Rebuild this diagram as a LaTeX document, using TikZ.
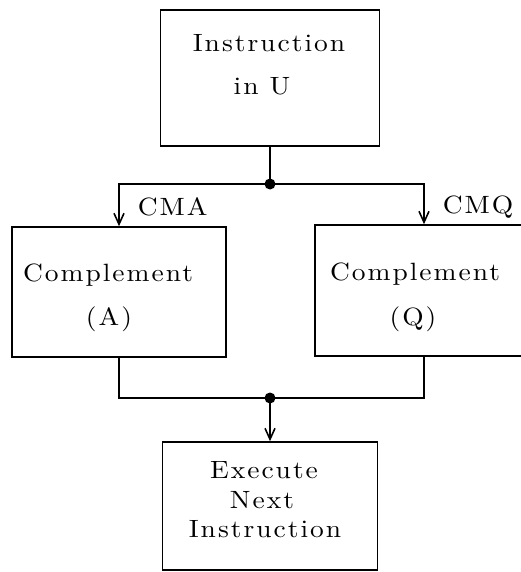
\documentclass[tikz,border=0pt]{standalone}
\usepackage{fontspec}
\setmainfont{lmroman10-regular.otf}
\newfontfamily\spaced[LetterSpace=8,FakeStretch=1.1]{lmroman10-regular.otf}
\usetikzlibrary{arrows.meta}
\begin{document}
\begin{tikzpicture}[x=1pt,y=-1pt,
  line width=1.6pt,
  box/.style={draw, line width=1.6pt, inner sep=0pt},
  txt/.style={anchor=base, inner sep=0pt, font=\spaced\fontsize{25}{30}\selectfont},
  lbl/.style={txt, anchor=base west},
  dot/.style={circle, fill, inner sep=0pt, minimum size=11pt},
  arr/.style={-{Straight Barb[length=11pt,width=10pt]}}]
\useasboundingbox (0,0) rectangle (520,572);
% boxes
\node[box, minimum width=219pt, minimum height=136pt] (top) at (270,78) {};
\node[box, minimum width=214pt, minimum height=130pt] (left) at (119,292) {};
\node[box, minimum width=218pt, minimum height=131pt] (right) at (424,290.5) {};
\node[box, minimum width=215pt, minimum height=128pt] (bot) at (270,506) {};
% texts
\node[txt] (t1) at (269,52) {Instruction};
\node[txt] (t2) at (262,95) {in U};
\node[txt] (l1) at (108,281) {Complement};
\node[txt] (l2) at (109,325) {(A)};
\node[txt] (r1) at (415,280) {Complement};
\node[txt] (r2) at (413,325) {(Q)};
\node[txt] (b1) at (264,478) {Execute};
\node[txt] (b2) at (262,508) {Next};
\node[txt] (b3) at (265,537) {Instruction};
\node[lbl] (cma) at (137,215) {CMA};
\node[lbl] (cmq) at (442,213) {CMQ};
% junctions
\node[dot] (j1) at (270,184) {};
\node[dot] (j2) at (270,398) {};
% connectors
\draw (top.south) -- (j1.center);
\draw[arr] (j1.center) -| (left.north);
\draw[arr] (j1.center) -| (right.north);
\draw (left.south) |- (j2.center);
\draw (right.south) |- (j2.center);
\draw[arr] (j2.center) -- (bot.north);
\end{tikzpicture}
\end{document}
